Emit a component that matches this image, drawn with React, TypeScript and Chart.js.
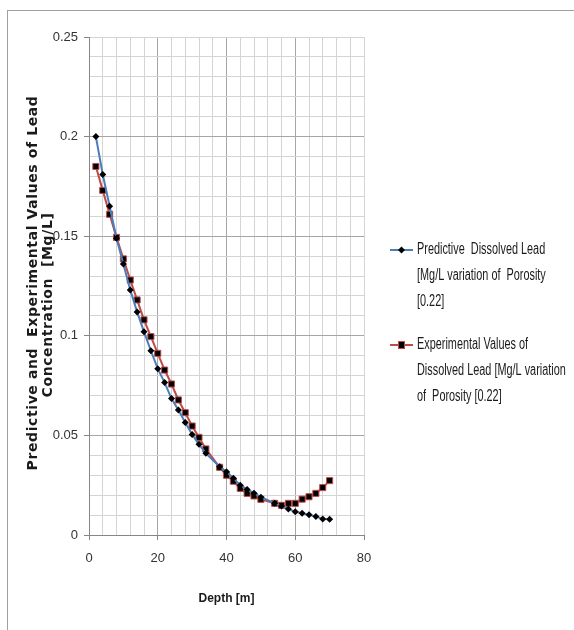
import React, { useEffect, useRef } from "react";
import { Chart, registerables } from "chart.js";
Chart.register(...registerables);

const depth = [2, 4, 6, 8, 10, 12, 14, 16, 18, 20, 22, 24, 26, 28, 30, 32, 34, 38, 40, 42, 44, 46, 48, 50, 54, 56, 58, 60, 62, 64, 66, 68, 70];
const predictive = [0.2, 0.181, 0.165, 0.149, 0.136, 0.123, 0.112, 0.102, 0.0925, 0.0835, 0.0765, 0.0685, 0.0627, 0.0565, 0.0505, 0.0455, 0.041, 0.0343, 0.0318, 0.0285, 0.025, 0.0229, 0.021, 0.019, 0.016, 0.0145, 0.013, 0.0117, 0.0109, 0.0102, 0.0093, 0.008, 0.0079];
const experimental = [0.185, 0.173, 0.161, 0.1494, 0.1386, 0.128, 0.118, 0.108, 0.0996, 0.0912, 0.0828, 0.0758, 0.0678, 0.0614, 0.0547, 0.049, 0.0432, 0.034, 0.03, 0.027, 0.0234, 0.0209, 0.0196, 0.0179, 0.0159, 0.0149, 0.0159, 0.0159, 0.018, 0.0192, 0.0209, 0.0238, 0.0273];
const xTickLabels = [0, 20, 40, 60, 80];
const yTickLabels = [0, 0.05, 0.1, 0.15, 0.2, 0.25];
const predictiveLegend = ["Predictive  Dissolved Lead", "[Mg/L variation of  Porosity", "[0.22]"];
const experimentalLegend = ["Experimental Values of", "Dissolved Lead [Mg/L variation", "of  Porosity [0.22]"];
const yTitle = ["Predictive and  Experimental Values of Lead", "Concentration  [Mg/L]"];
const xTitle = "Depth [m]";

const BLUE = "#4a7ebb";
const RED = "#be4b48";
const SANS = "'Liberation Sans', Arial, sans-serif";

const isMajorX = (v: number) => xTickLabels.some((t) => Math.abs(t - v) < 1e-6);
const isMajorY = (v: number) => yTickLabels.some((t) => Math.abs(t - v) < 1e-6);

const yTitlePlugin = {
  id: "yTitle",
  afterDraw(chart: any) {
    const { ctx, chartArea } = chart;
    const cy = (chartArea.top + chartArea.bottom) / 2;
    const offsets = [
      { x: chartArea.left - 56, y: cy - 3 },
      { x: chartArea.left - 41, y: cy + 19 },
    ];
    ctx.save();
    ctx.fillStyle = "#1a1a1a";
    ctx.font = "bold 14px 'DejaVu Sans', sans-serif";
    (ctx as any).letterSpacing = "0.6px";
    ctx.textAlign = "center";
    ctx.textBaseline = "middle";
    yTitle.forEach((line, i) => {
      ctx.save();
      ctx.translate(offsets[i].x, offsets[i].y);
      ctx.rotate(-Math.PI / 2);
      ctx.fillText(line, 0, 0);
      ctx.restore();
    });
    ctx.restore();
  },
};

const legendPlugin = {
  id: "sideLegend",
  afterDraw(chart: any) {
    const { ctx, chartArea } = chart;
    const x0 = chartArea.right + 26;
    const entries = [
      { lines: predictiveLegend, color: BLUE, marker: "diamond", top: chartArea.top + 213 },
      { lines: experimentalLegend, color: RED, marker: "square", top: chartArea.top + 308 },
    ];
    ctx.save();
    for (const e of entries) {
      ctx.strokeStyle = e.color;
      ctx.lineWidth = 2;
      ctx.beginPath();
      ctx.moveTo(x0, e.top);
      ctx.lineTo(x0 + 23, e.top);
      ctx.stroke();
      const cx = x0 + 11.5;
      ctx.fillStyle = "#000";
      if (e.marker === "diamond") {
        ctx.beginPath();
        ctx.moveTo(cx, e.top - 3.5);
        ctx.lineTo(cx + 3.5, e.top);
        ctx.lineTo(cx, e.top + 3.5);
        ctx.lineTo(cx - 3.5, e.top);
        ctx.closePath();
        ctx.fill();
      } else {
        ctx.fillRect(cx - 3, e.top - 3.5, 6, 7);
        ctx.strokeStyle = RED;
        ctx.lineWidth = 1;
        ctx.strokeRect(cx - 3, e.top - 3.5, 6, 7);
      }
      ctx.fillStyle = "#1a1a1a";
      ctx.font = `16px ${SANS}`;
      ctx.textBaseline = "middle";
      ctx.textAlign = "left";
      e.lines.forEach((line, i) => {
        ctx.save();
        ctx.translate(x0 + 27, e.top + i * 26);
        ctx.scale(0.68, 1);
        ctx.fillText(line, 0, 0);
        ctx.restore();
      });
    }
    ctx.restore();
  },
};

export default function App() {
  const ref = useRef<HTMLCanvasElement>(null);
  useEffect(() => {
    if (!ref.current) return;
    const chart = new Chart(ref.current, {
      type: "line",
      data: {
        datasets: [
          {
            label: predictiveLegend.join(" "),
            data: depth.map((d, i) => ({ x: d, y: predictive[i] })),
            borderColor: BLUE,
            borderWidth: 2,
            backgroundColor: "#000",
            pointBackgroundColor: "#000",
            pointBorderColor: "#000",
            pointStyle: "rectRot",
            pointRadius: 3.5,
            pointBorderWidth: 0,
            tension: 0,
          },
          {
            label: experimentalLegend.join(" "),
            data: depth.map((d, i) => ({ x: d, y: experimental[i] })),
            borderColor: RED,
            borderWidth: 2,
            backgroundColor: "#000",
            pointBackgroundColor: "#000",
            pointBorderColor: RED,
            pointStyle: "rect",
            pointRadius: 4.3,
            pointBorderWidth: 1,
            tension: 0,
          },
        ],
      },
      options: {
        animation: false,
        responsive: false,
        devicePixelRatio: 1,
        layout: { padding: { left: 8, right: 210, top: 37, bottom: 0 } },
        plugins: { legend: { display: false }, tooltip: { enabled: false } },
        scales: {
          x: {
            type: "linear",
            min: 0,
            max: 80,
            afterFit: (s: any) => { s.height = 95; },
            afterBuildTicks: (s: any) => {
              const t = [];
              for (let v = 0; v <= 80; v += 4) t.push({ value: v });
              s.ticks = t;
            },
            ticks: {
              autoSkip: false,
              maxRotation: 0,
              padding: 11,
              font: { family: SANS, size: 13 },
              color: "#333",
              callback: (v: any) => (isMajorX(Number(v)) ? String(v) : ""),
            },
            grid: {
              color: (c: any) => (isMajorX(c.tick.value) && c.tick.value !== 80 ? "#a6a6a6" : "#d4d4d4"),
              tickColor: (c: any) => (isMajorX(c.tick.value) ? "#868686" : "transparent"),
              tickLength: 5,
            },
            border: { color: "#868686" },
            title: {
              display: true,
              text: xTitle,
              font: { family: SANS, size: 12, weight: "bold" },
              color: "#1a1a1a",
              padding: { top: 0, bottom: 24 },
            },
          },
          y: {
            type: "linear",
            min: 0,
            max: 0.25,
            afterFit: (s: any) => { s.width = 81; },
            afterBuildTicks: (s: any) => {
              const t = [];
              for (let i = 0; i <= 25; i++) t.push({ value: i / 100 });
              s.ticks = t;
            },
            ticks: {
              autoSkip: false,
              padding: 6,
              font: { family: SANS, size: 13 },
              color: "#333",
              callback: (v: any) => (isMajorY(Number(v)) ? String(Number(Number(v).toFixed(2))) : ""),
            },
            grid: {
              color: (c: any) => (isMajorY(c.tick.value) && c.tick.value < 0.245 ? "#a6a6a6" : "#d4d4d4"),
              tickColor: (c: any) => (isMajorY(c.tick.value) ? "#868686" : "transparent"),
              tickLength: 5,
            },
            border: { color: "#868686" },
            title: { display: false },
          },
        },
      },
      plugins: [legendPlugin, yTitlePlugin],
    } as any);
    return () => chart.destroy();
  }, []);
  return (
    <div style={{ position: "fixed", left: 0, top: 0, width: 574, height: 630, overflow: "hidden", background: "#fff" }}>
      <div style={{ position: "absolute", left: 7, top: 10, width: 620, height: 680, border: "1px solid #a0a0a0" }} />
      <canvas ref={ref} width={574} height={630} style={{ position: "absolute", left: 0, top: 0, width: 574, height: 630 }} />
    </div>
  );
}
